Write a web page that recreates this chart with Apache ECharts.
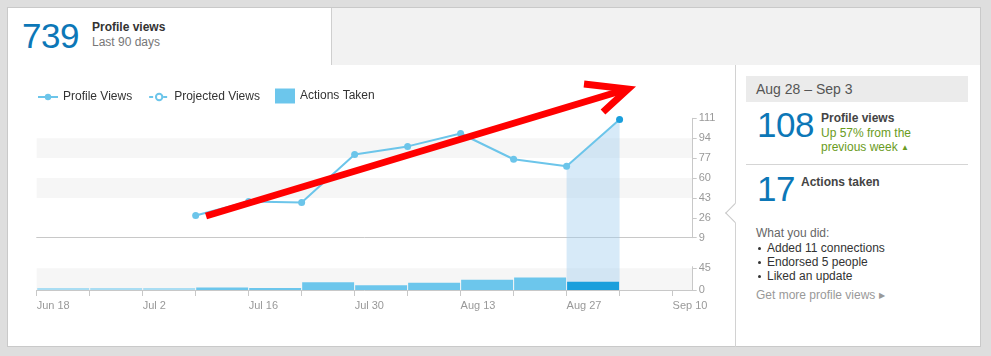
<!DOCTYPE html>
<html>
<head>
<meta charset="utf-8">
<title>Profile views</title>
<script src="https://cdn.jsdelivr.net/npm/echarts@6/dist/echarts.min.js"></script>
<style>
  html, body { margin:0; padding:0; width:991px; height:356px; overflow:hidden; background:#dedede;
    font-family:"Liberation Sans", Arial, Helvetica, sans-serif; }
  .abs { position:absolute; white-space:nowrap; }
  #card { position:absolute; left:7px; top:7px; width:972px; height:338px; background:#fff; border:1px solid #c9c9c9; }
  #hdrGray { position:absolute; left:331px; top:8px; width:648px; height:57px; background:#f2f2f2; border-left:1px solid #cfcfcf; }
  #sep { position:absolute; left:735px; top:65px; width:1px; height:282px; background:#d2d2d2; }
  #pointer { position:absolute; left:728px; top:206px; width:13px; height:13px; background:#fff;
    border-left:1px solid #c8c8c8; border-bottom:1px solid #c8c8c8; transform:rotate(45deg); z-index:1; }
  .big { font-size:35px; line-height:35px; color:#0c77b7; letter-spacing:-0.5px; }
  .lbl { font-size:12px; line-height:14px; }
  #dateBox { position:absolute; left:746px; top:76px; width:212px; height:26px; padding-left:10px; background:#ebebeb;
    color:#555; font-size:14px; line-height:26px; }
  #panelSep { position:absolute; left:746px; top:164px; width:222px; height:1px; background:#d5d5d5; }
  ul { margin:0; padding:0; list-style:none; }
  li { position:relative; padding-left:10px; }
  li:before { content:""; position:absolute; left:1px; top:6px; width:3px; height:3px; border-radius:50%; background:#333; }
  #chart { position:absolute; left:0; top:0; width:991px; height:356px; z-index:2; }
</style>
</head>
<body>
<div id="card"></div>
<div id="hdrGray"></div>
<div id="sep"></div>
<div id="pointer"></div>

<div class="abs big" style="left:22px; top:18px;">739</div>
<div class="abs lbl" style="left:92px; top:20px; font-weight:bold; color:#333;">Profile views</div>
<div class="abs lbl" style="left:92px; top:35px; color:#777;">Last 90 days</div>

<div id="dateBox">Aug 28 – Sep 3</div>
<div class="abs big" style="left:757px; top:107px;">108</div>
<div class="abs lbl" style="left:821px; top:111px; font-weight:bold; color:#444;">Profile views</div>
<div class="abs lbl" style="left:821px; top:125.5px; color:#6a9b22;">Up 57% from the<br>previous week <span style="font-size:8px; vertical-align:1px;">▲</span></div>
<div id="panelSep"></div>
<div class="abs big" style="left:757px; top:170.5px;">17</div>
<div class="abs lbl" style="left:801px; top:174.5px; font-weight:bold; color:#444;">Actions taken</div>
<div class="abs lbl" style="left:756px; top:225.5px; color:#666;">What you did:</div>
<ul class="abs lbl" style="left:757px; top:241px; color:#333;">
  <li>Added 11 connections</li>
  <li>Endorsed 5 people</li>
  <li>Liked an update</li>
</ul>
<div class="abs lbl" style="left:756px; top:288px; color:#999;">Get more profile views <span style="font-size:8px; vertical-align:1px;">▶</span></div>

<div id="chart"></div>

<script>
// ---- data ----
const weekLabels = ['Jun 18','Jun 25','Jul 2','Jul 9','Jul 16','Jul 23','Jul 30','Aug 6','Aug 13','Aug 20','Aug 27','Sep 3','Sep 10'];
const viewWeeks = ['Jul 9','Jul 16','Jul 23','Jul 30','Aug 6','Aug 13','Aug 20','Aug 27','Sep 3'];
const profileViews = [28, 40, 39, 80, 87, 98, 76, 70, 110];
const projectedViews = [];
const actionWeeks = ['Jun 18','Jun 25','Jul 2','Jul 9','Jul 16','Jul 23','Jul 30','Aug 6','Aug 13','Aug 20','Aug 27'];
const actionsTaken = [0, 0, 0, 5, 4, 16, 10, 15, 21, 26, 17];
const selectedWeek = 'Aug 27';
const viewTicks = [9, 26, 43, 60, 77, 94, 111];
const actionTicks = [0, 45];
const xLabelWeeks = ['Jun 18','Jul 2','Jul 16','Jul 30','Aug 13','Aug 27','Sep 10'];

// ---- derived ----
const wIdx = w => weekLabels.indexOf(w);
const viewData = viewWeeks.map((w, i) => {
  const item = { value: [wIdx(w), profileViews[i]] };
  if (i === viewWeeks.length - 1) item.itemStyle = { color: '#1a9fdc' };
  return item;
});
const barData = actionWeeks.map((w, i) => {
  const item = { value: [wIdx(w) + 0.5, actionsTaken[i]] };
  if (w === selectedWeek) item.itemStyle = { color: '#1a9fdc' };
  else if (actionsTaken[i] === 0) item.itemStyle = { color: '#a9ddf3' };
  return item;
});
const selPos = viewWeeks.indexOf(selectedWeek);
const highlightData = [
  [wIdx(viewWeeks[selPos]), profileViews[selPos]],
  [wIdx(viewWeeks[selPos + 1]), profileViews[selPos + 1]]
];

const FONT = '"Liberation Sans", Arial, sans-serif';
const AX = '#c8c8c8';
const X_MAX = 12.38;
const vInt = viewTicks[1] - viewTicks[0];
const vMin = viewTicks[0], vMax = viewTicks[viewTicks.length - 1];
const pxPerUnit = 119.4 / (vMax - vMin);
const hlMin = vMin - 52.3 / pxPerUnit;
const DASH = [4, 3];

const chart = echarts.init(document.getElementById('chart'), null, { renderer: 'canvas' });
chart.setOption({
  animation: false,
  backgroundColor: 'transparent',
  textStyle: { fontFamily: FONT },
  grid: [
    { left: 36.7, top: 118.3, width: 656, height: 119.4 },
    { left: 36.7, top: 266.7, width: 656, height: 23.3 },
    { left: 36.7, top: 118.3, width: 656, height: 171.7 }
  ],
  legend: [
    { data: ['Profile Views', { name: 'Projected Views', lineStyle: { type: DASH } }],
      left: 37, top: 91, padding: 0, itemWidth: 20, itemHeight: 8, itemGap: 16,
      selectedMode: false, textStyle: { color: '#333', fontSize: 12, fontFamily: FONT } },
    { data: ['Actions Taken'], left: 275, top: 88.5, padding: 0, itemWidth: 20, itemHeight: 15, icon: 'rect',
      selectedMode: false, textStyle: { color: '#333', fontSize: 12, fontFamily: FONT } }
  ],
  xAxis: [
    { type: 'value', gridIndex: 0, min: 0, max: X_MAX, interval: 1,
      axisLine: { show: true, onZero: false, lineStyle: { color: AX } },
      axisTick: { show: false }, axisLabel: { show: false }, splitLine: { show: false } },
    { type: 'value', gridIndex: 1, min: 0, max: X_MAX, interval: 1,
      axisLine: { show: true, onZero: false, lineStyle: { color: AX } },
      axisTick: { show: true, length: 6, lineStyle: { color: AX }, customValues: weekLabels.map((w, i) => i) },
      axisLabel: { show: true, customValues: xLabelWeeks.map(wIdx), formatter: v => weekLabels[v] || '',
        align: 'left', margin: 10, color: '#999', fontSize: 11, fontFamily: FONT },
      splitLine: { show: false } },
    { type: 'value', gridIndex: 2, min: 0, max: X_MAX, show: false }
  ],
  yAxis: [
    { type: 'value', gridIndex: 0, position: 'right', min: vMin, max: vMax, interval: vInt,
      axisLine: { show: true, onZero: false, lineStyle: { color: AX } },
      axisTick: { show: true, length: 4, lineStyle: { color: AX } },
      axisLabel: { margin: 6, color: '#999', fontSize: 11, fontFamily: FONT },
      splitLine: { show: false },
      splitArea: { show: true, areaStyle: { color: ['rgba(0,0,0,0)', 'rgba(0,0,0,0)', '#f6f6f6', 'rgba(0,0,0,0)', '#f6f6f6', 'rgba(0,0,0,0)'] } } },
    { type: 'value', gridIndex: 1, position: 'right', min: 0, max: 48.3, interval: actionTicks[1] - actionTicks[0],
      axisLine: { show: true, onZero: false, lineStyle: { color: AX } },
      axisTick: { show: true, length: 4, lineStyle: { color: AX }, customValues: actionTicks },
      axisLabel: { margin: 6, color: '#999', fontSize: 11, fontFamily: FONT, customValues: actionTicks },
      splitLine: { show: false },
      splitArea: { show: true, areaStyle: { color: ['#f6f6f6', 'rgba(0,0,0,0)'] } } },
    { type: 'value', gridIndex: 2, min: hlMin, max: vMax, show: false }
  ],
  series: [
    { name: 'Selected week', type: 'line', xAxisIndex: 2, yAxisIndex: 2, data: highlightData,
      symbol: 'none', lineStyle: { width: 0 }, silent: true, z: 1,
      areaStyle: { color: 'rgba(160,205,238,0.42)', opacity: 1, origin: 'start' } },
    { name: 'Actions Taken', type: 'bar', xAxisIndex: 1, yAxisIndex: 1, data: barData,
      barCategoryGap: '2%', barMinHeight: 2, z: 3,
      itemStyle: { color: '#6cc6ec' } },
    { name: 'Profile Views', type: 'line', xAxisIndex: 0, yAxisIndex: 0, data: viewData,
      symbol: 'circle', symbolSize: 7, showAllSymbol: true, z: 4,
      itemStyle: { color: '#6cc5ea' }, lineStyle: { color: '#6cc5ea', width: 2 } },
    { name: 'Projected Views', type: 'line', xAxisIndex: 0, yAxisIndex: 0, data: projectedViews,
      symbol: 'emptyCircle', symbolSize: 7, z: 4,
      itemStyle: { color: '#6cc5ea' }, lineStyle: { color: '#6cc5ea', width: 2, type: DASH } }
  ],
  graphic: [
    { type: 'polyline', z: 100, silent: true, shape: { points: [[206, 216], [624, 90]] },
      style: { stroke: '#ff0000', lineWidth: 7, fill: null } },
    { type: 'polyline', z: 100, silent: true, shape: { points: [[584, 84], [628, 89], [603, 112]] },
      style: { stroke: '#ff0000', lineWidth: 7, fill: null, lineJoin: 'miter' } }
  ]
});
</script>
</body>
</html>
